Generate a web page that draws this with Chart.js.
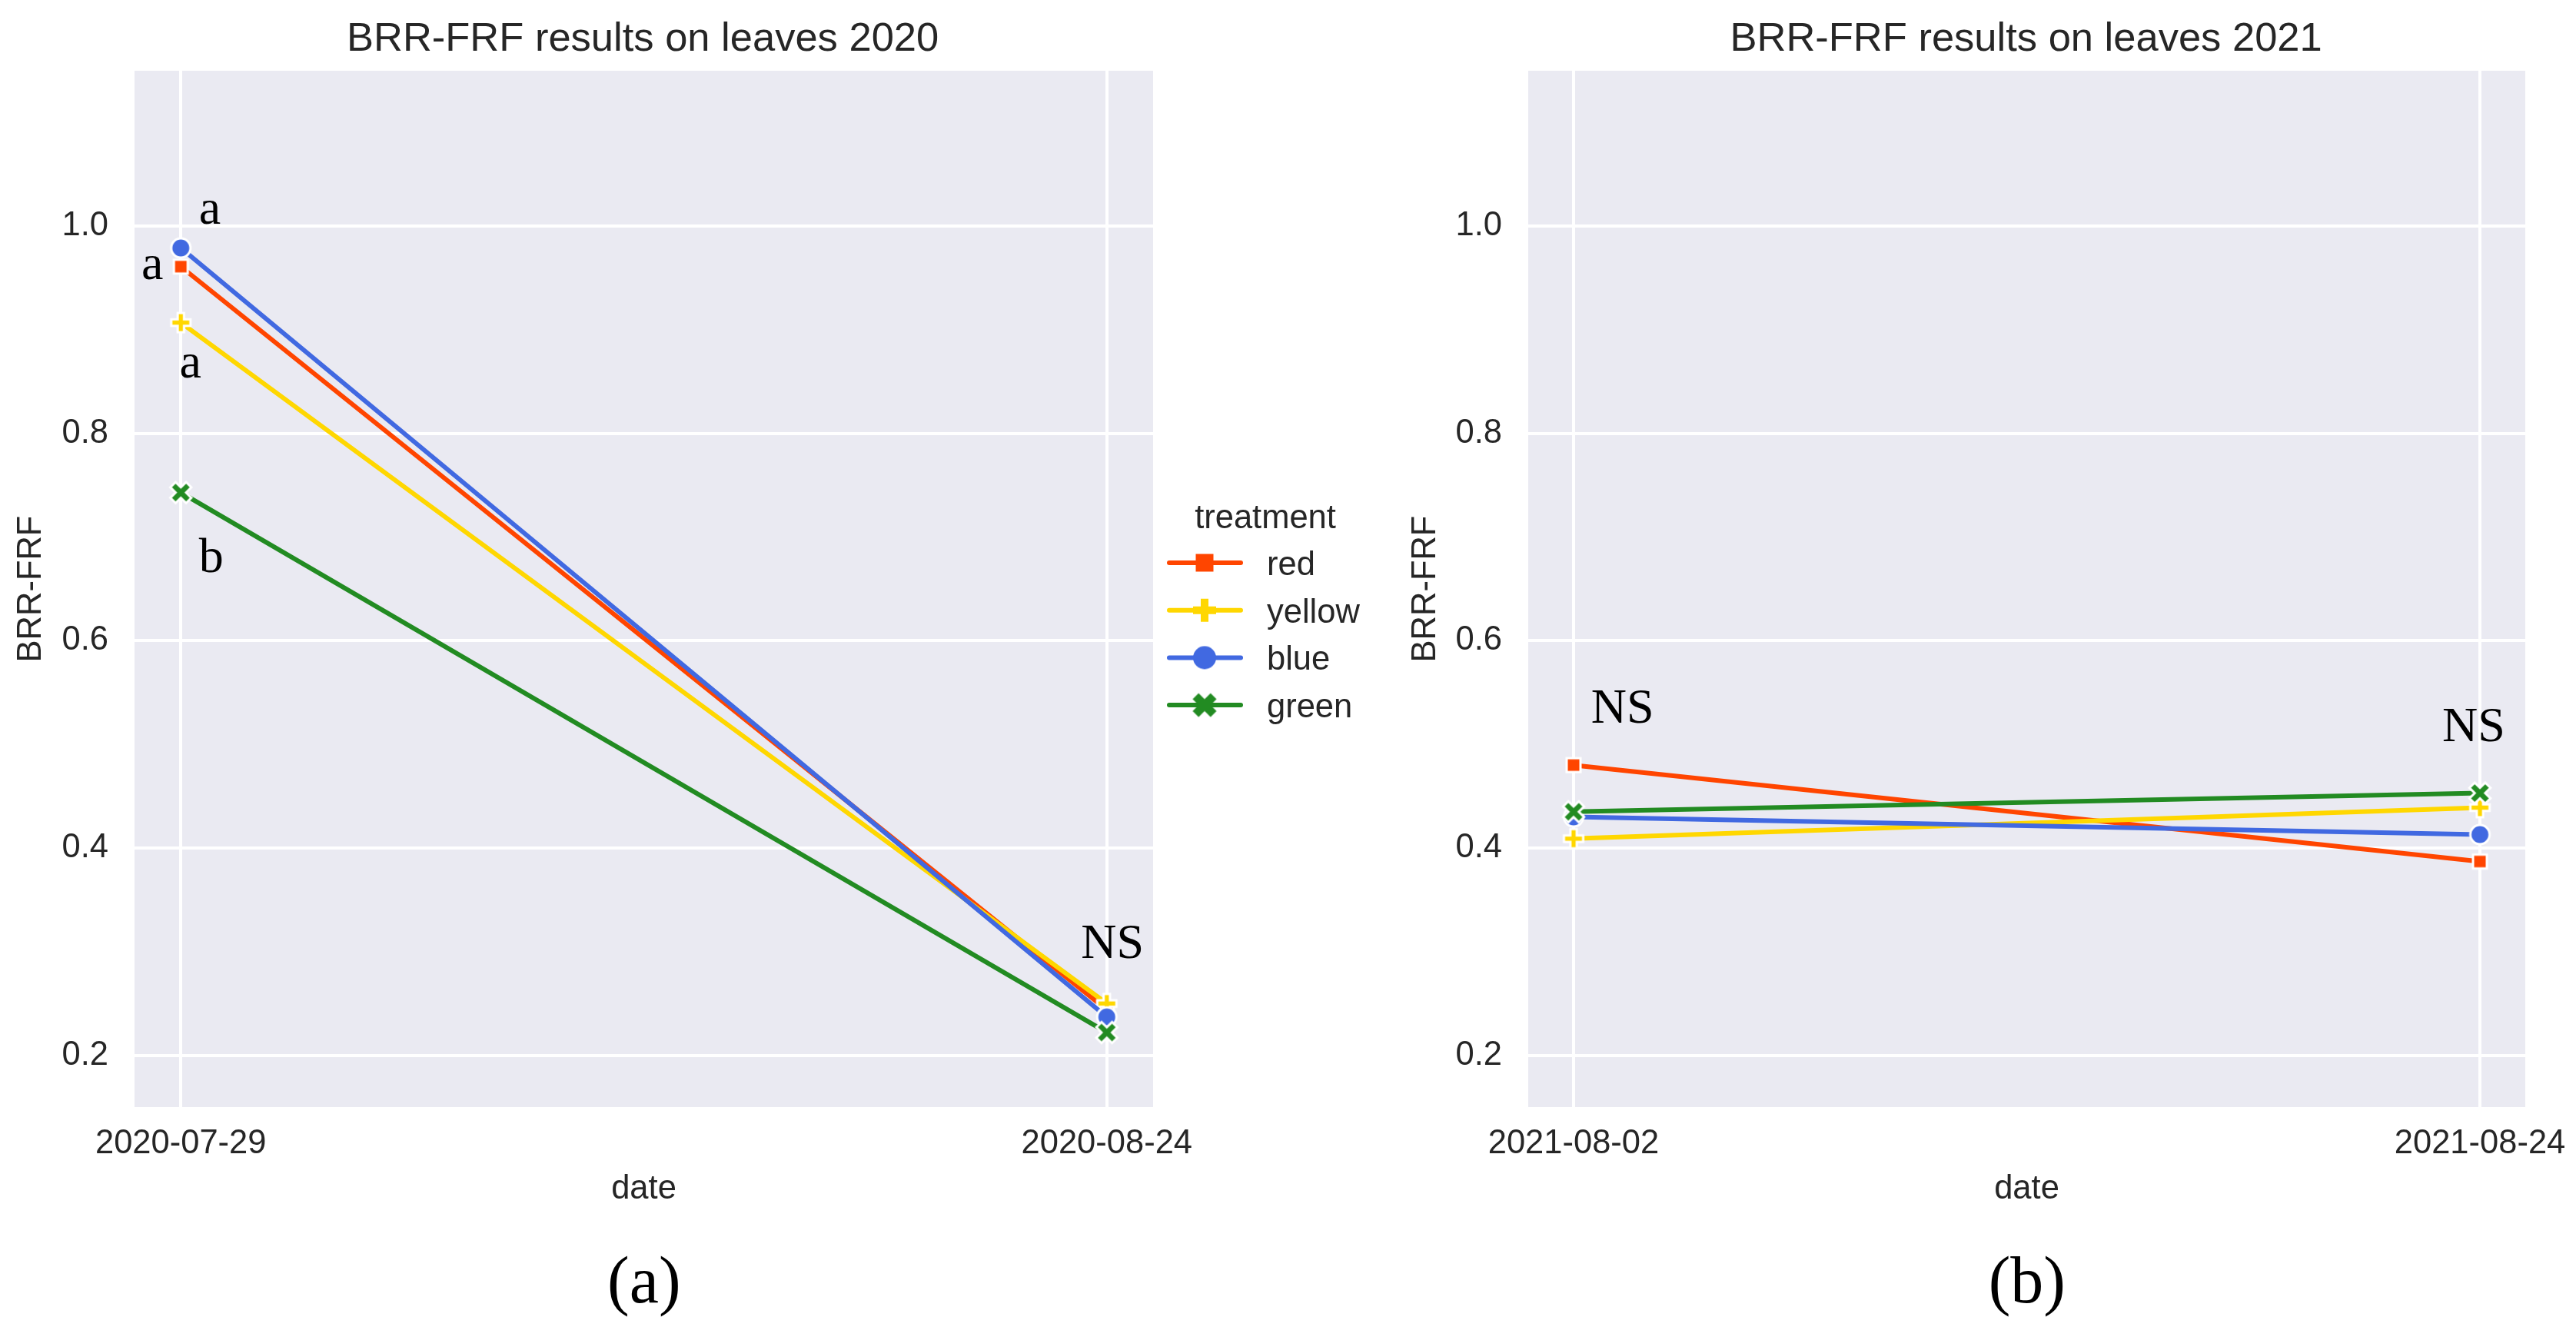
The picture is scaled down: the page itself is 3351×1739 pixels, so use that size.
<!DOCTYPE html>
<html>
<head>
<meta charset="utf-8">
<script src="https://cdn.jsdelivr.net/npm/chart.js@4.4.1/dist/chart.umd.min.js"></script>
<style>
html, body { margin: 0; padding: 0; background: #fff; }
#page { position: relative; width: 3351px; height: 1739px; overflow: hidden; background: #fff; }
.panel { position: absolute; top: 0; height: 1739px; }
#left { left: 0; width: 1790px; }
#right { left: 1790px; width: 1561px; }
</style>
</head>
<body>
<div id="page">
    <div class="panel" id="left"><canvas id="c2020"></canvas></div>
    <div class="panel" id="right"><canvas id="c2021"></canvas></div>
</div>
<script>
// data
const treatments = ['red', 'yellow', 'blue', 'green'];
const dates2020 = ['2020-07-29', '2020-08-24'];
const dates2021 = ['2021-08-02', '2021-08-24'];

const red2020 = [0.961, 0.244];
const yellow2020 = [0.907, 0.250];
const blue2020 = [0.979, 0.237];
const green2020 = [0.743, 0.222];

const red2021 = [0.480, 0.387];
const yellow2021 = [0.409, 0.439];
const blue2021 = [0.430, 0.413];
const green2021 = [0.435, 0.453];

const yTicks = [0.2, 0.4, 0.6, 0.8, 1.0];

// significance letters: [text, x (date index), y (BRR-FRF)]
const notes2020 = [['a', 0.032, 1.013], ['a', -0.030, 0.960], ['a', 0.011, 0.865], ['b', 0.032, 0.683], ['NS', 1.005, 0.309]];
const notes2021 = [['NS', 0.053, 0.536], ['NS', 0.992, 0.518]];

const colors = ['#FF4500', '#FFD700', '#4169E1', '#228B22'];
const shapes = ['square', 'plus', 'circle', 'x'];
const plotSizes = [18, 25, 25, 29];
const legendSizes = [23, 30, 30, 33];

const SANS = '"Liberation Sans", Arial, sans-serif';
const SERIF = '"Liberation Serif", "Times New Roman", serif';
const INK = '#262626';

function makeMarker(shape, color, size, edge) {
    const c = document.createElement('canvas');
    const full = Math.ceil(size + edge * 2 + 4);
    c.width = full;
    c.height = full;
    const ctx = c.getContext('2d');
    ctx.translate(full / 2, full / 2);
    const h = size / 2;
    ctx.beginPath();
    if (shape === 'circle') {
        ctx.arc(0, 0, h, 0, Math.PI * 2);
    } else if (shape === 'square') {
        ctx.rect(-h, -h, size, size);
    } else {
        if (shape === 'x') ctx.rotate(Math.PI / 4);
        const a = h / 3;
        ctx.moveTo(-a, -h); ctx.lineTo(a, -h); ctx.lineTo(a, -a); ctx.lineTo(h, -a);
        ctx.lineTo(h, a); ctx.lineTo(a, a); ctx.lineTo(a, h); ctx.lineTo(-a, h);
        ctx.lineTo(-a, a); ctx.lineTo(-h, a); ctx.lineTo(-h, -a); ctx.lineTo(-a, -a);
        ctx.closePath();
    }
    ctx.fillStyle = color;
    ctx.fill();
    if (edge > 0) {
        ctx.lineWidth = edge;
        ctx.strokeStyle = '#fff';
        ctx.stroke();
    }
    return c;
}

const plotMarkers = shapes.map((s, i) => makeMarker(s, colors[i], plotSizes[i], 3));
const legendMarkers = shapes.map((s, i) => makeMarker(s, colors[i], legendSizes[i], 0));

// draws text so that its ink is centred on (cx, cy)
function inkText(ctx, text, cx, cy, font, color) {
    ctx.font = font;
    ctx.fillStyle = color;
    ctx.textAlign = 'left';
    ctx.textBaseline = 'alphabetic';
    const m = ctx.measureText(text);
    const x = cx - (m.actualBoundingBoxRight - m.actualBoundingBoxLeft) / 2;
    const y = cy + (m.actualBoundingBoxAscent - m.actualBoundingBoxDescent) / 2;
    ctx.fillText(text, x, y);
}

function drawLegend(chart) {
    const { ctx, chartArea: a } = chart;
    const x0 = a.right + 21;
    ctx.font = `43.5px ${SANS}`;
    ctx.fillStyle = INK;
    ctx.textBaseline = 'alphabetic';
    ctx.textAlign = 'center';
    ctx.fillText('treatment', x0 + 125, a.top + 595);
    ctx.textAlign = 'left';
    treatments.forEach((t, i) => {
        const yy = a.top + 640 + i * 61.7;
        ctx.strokeStyle = colors[i];
        ctx.lineWidth = 6;
        ctx.lineCap = 'round';
        ctx.beginPath();
        ctx.moveTo(x0, yy);
        ctx.lineTo(x0 + 93, yy);
        ctx.stroke();
        const m = legendMarkers[i];
        ctx.drawImage(m, x0 + 46 - m.width / 2, yy - m.height / 2);
        ctx.fillStyle = INK;
        ctx.fillText(t, x0 + 127, yy + 16);
    });
}

const panelText = {
    id: 'panelText',
    beforeDraw(chart) {
        const { ctx, chartArea: a } = chart;
        ctx.save();
        ctx.fillStyle = '#EAEAF2';
        ctx.fillRect(a.left, a.top, a.right - a.left, a.bottom - a.top);
        ctx.restore();
    },
    afterDraw(chart, args, opts) {
        const { ctx, chartArea: a, scales: { x, y } } = chart;
        const mid = (a.left + a.right) / 2;
        ctx.save();
        inkText(ctx, opts.title, mid, a.top - 44.5, `52.5px ${SANS}`, INK);
        opts.notes.forEach(([t, xv, yv]) => {
            inkText(ctx, t, x.getPixelForValue(xv), y.getPixelForValue(yv), `64px ${SERIF}`, '#000');
        });
        inkText(ctx, opts.caption, mid, a.bottom + 233, `86px ${SERIF}`, '#000');
        if (opts.legend) drawLegend(chart);
        ctx.restore();
    }
};

function buildPanel(id, dates, series, opts) {
    const font = { family: SANS, size: 43.5 };
    const datasets = treatments.map((t, i) => ({
        label: t,
        data: series[i].map((v, j) => ({ x: j, y: v })),
        borderColor: colors[i],
        backgroundColor: colors[i],
        borderWidth: 6,
        borderCapStyle: 'round',
        pointStyle: plotMarkers[i],
        pointRadius: 12,
        tension: 0,
        order: treatments.length - i
    }));
    return new Chart(document.getElementById(id), {
        type: 'line',
        data: { datasets },
        plugins: [panelText],
        options: {
            responsive: true,
            maintainAspectRatio: false,
            devicePixelRatio: 1,
            animation: false,
            events: [],
            layout: { padding: opts.padding },
            scales: {
                x: {
                    type: 'linear',
                    min: -0.05,
                    max: 1.05,
                    afterBuildTicks: ax => { ax.ticks = dates.map((d, i) => ({ value: i })); },
                    afterFit: s => { s.height = 180; s.paddingLeft = 0; s.paddingRight = 0; },
                    ticks: { callback: v => dates[v], font, color: INK, padding: 22, maxRotation: 0, autoSkip: false },
                    grid: { color: '#fff', lineWidth: 4, drawTicks: false },
                    border: { display: false },
                    title: { display: true, text: 'date', font, color: INK, padding: { top: 0, bottom: 47 } }
                },
                y: {
                    type: 'linear',
                    min: 0.15,
                    max: 1.15,
                    afterBuildTicks: ax => { ax.ticks = yTicks.map(v => ({ value: v })); },
                    afterFit: s => { s.width = opts.yWidth; s.paddingTop = 0; s.paddingBottom = 0; },
                    ticks: { callback: v => v.toFixed(1), font, color: INK, padding: 34 },
                    grid: { color: '#fff', lineWidth: 4, drawTicks: false },
                    border: { display: false },
                    title: { display: true, text: 'BRR-FRF', font, color: INK, padding: { top: opts.yTitlePad, bottom: 0 } }
                }
            },
            plugins: {
                legend: { display: false },
                tooltip: { enabled: false },
                panelText: { title: opts.title, notes: opts.notes, caption: opts.caption, legend: opts.legend }
            }
        }
    });
}

buildPanel('c2020', dates2020, [red2020, yellow2020, blue2020, green2020], {
    title: 'BRR-FRF results on leaves 2020',
    caption: '(a)',
    notes: notes2020,
    legend: true,
    yWidth: 175,
    yTitlePad: 15,
    padding: { left: 0, top: 92, right: 290, bottom: 119 }
});

buildPanel('c2021', dates2021, [red2021, yellow2021, blue2021, green2021], {
    title: 'BRR-FRF results on leaves 2021',
    caption: '(b)',
    notes: notes2021,
    legend: false,
    yWidth: 198,
    yTitlePad: 39,
    padding: { left: 0, top: 92, right: 66, bottom: 119 }
});
</script>
</body>
</html>
